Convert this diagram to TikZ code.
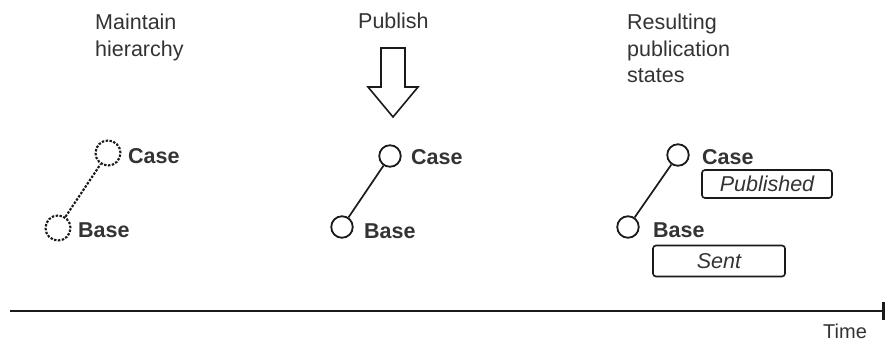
\documentclass[tikz,border=0pt]{standalone}
\usepackage{fontspec}
\setmainfont{Liberation Sans}
\usetikzlibrary{arrows.meta}
\definecolor{txt}{HTML}{333333}
\definecolor{ln}{HTML}{1A1A1A}
\begin{document}
\begin{tikzpicture}[x=1pt,y=-1pt,
  hnode/.style={circle,draw=ln,line width=1.8pt,minimum size=21.5pt,inner sep=0pt},
  hdash/.style={hnode,line width=2.1pt,minimum size=25pt,dash pattern=on 2.4pt off 1.5pt},
  lbl/.style={anchor=west,inner sep=0pt,font=\fontsize{21.5}{24}\selectfont\bfseries,text=txt},
  head/.style={anchor=north west,inner sep=0pt,align=left,font=\fontsize{21.5}{26.5}\selectfont,text=txt},
  state/.style={draw=ln,line width=1.6pt,rounded corners=3pt,inner sep=0pt,font=\fontsize{21.5}{24}\selectfont\itshape,text=txt},
  link/.style={line width=1.7pt,draw=ln}]
\useasboundingbox (0,0) rectangle (887,342);
% headings
\node[head] (h1) at (95,14) {Maintain\\hierarchy};
\node[head] (h2) at (358,13) {Publish};
\node[head] (h3) at (627,14) {Resulting\\publication\\states};
% block arrow
\draw[line width=1.6pt,draw=ln,line join=miter] (381,48) -- (405,48) -- (405,87) -- (418,87) -- (393,117) -- (368,87) -- (381,87) -- cycle;
% stage 1
\node[hdash] (c1) at (108,153) {};
\node[hdash] (b1) at (58,228) {};
\draw[link,line width=2.1pt,dash pattern=on 2.4pt off 1.5pt] (b1) -- (c1);
\node[lbl] (lc1) at (128,156) {Case};
\node[lbl] (lb1) at (78,230) {Base};
% stage 2
\node[hnode] (c2) at (390,156) {};
\node[hnode] (b2) at (342,227) {};
\draw[link] (b2) -- (c2);
\node[lbl] (lc2) at (411,157) {Case};
\node[lbl] (lb2) at (364,231) {Base};
% stage 3
\node[hnode] (c3) at (678,155) {};
\node[hnode] (b3) at (628,227) {};
\draw[link] (b3) -- (c3);
\node[lbl] (lc3) at (702,157) {Case};
\node[lbl] (lb3) at (653,230) {Base};
\node[state,minimum width=130pt,minimum height=28pt] (p3) at (767,184) {Published};
\node[state,minimum width=132pt,minimum height=31pt] (s3) at (719,261) {Sent};
% timeline
\coordinate (t0) at (10,311);
\coordinate (t1) at (885,311);
\draw[line width=1.8pt,draw=ln,-{Bar[width=18pt,line width=3pt]}] (t0) -- (t1);
\node[anchor=base west,inner sep=0pt,font=\fontsize{20}{22}\selectfont,text=txt] (tm) at (823,338) {Time};
\end{tikzpicture}
\end{document}
